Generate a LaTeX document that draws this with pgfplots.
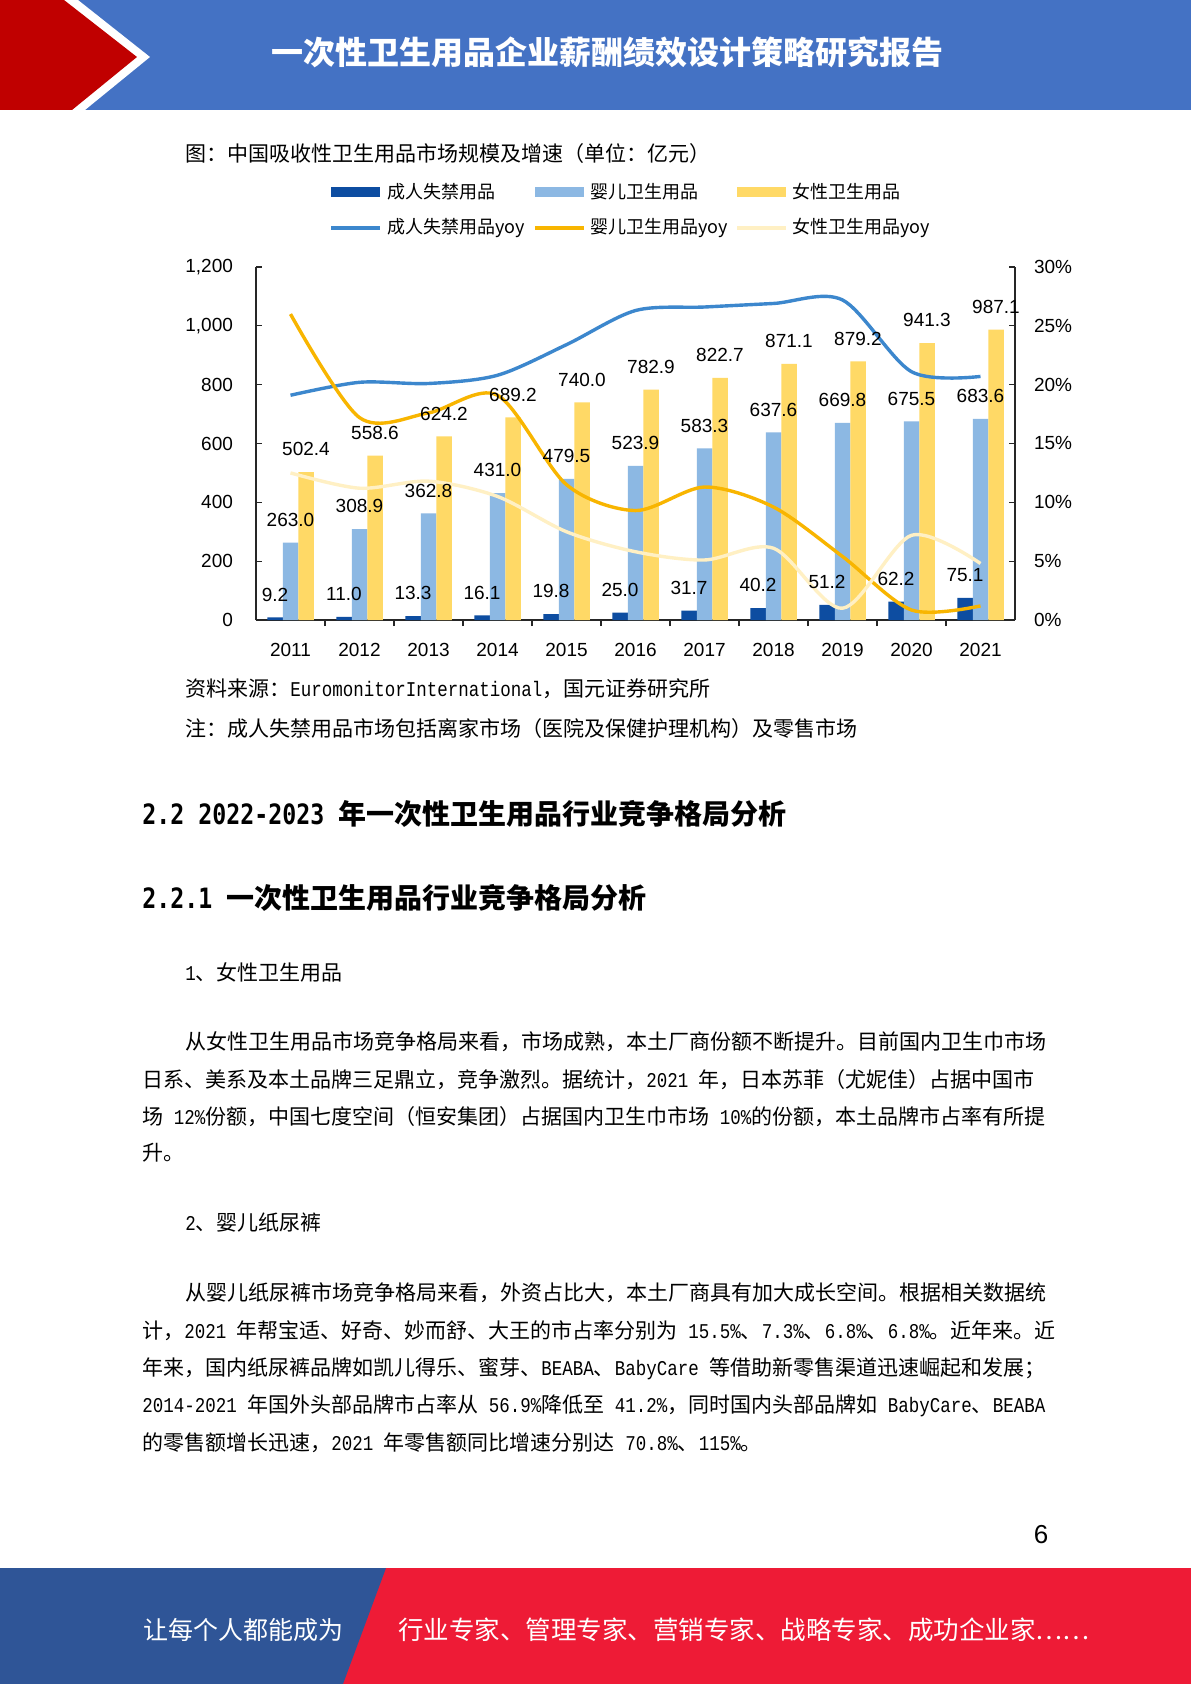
\documentclass[border=0pt]{standalone}
\usepackage{fontspec}
\setmainfont{Noto Sans CJK SC}
\newfontfamily\arial{Liberation Sans}
\newfontfamily\monofont[FakeStretch=0.833]{Liberation Mono}
\newfontfamily\hmonofont[FakeStretch=0.83]{DejaVu Sans Mono}
\usepackage{pgfplots}
\pgfplotsset{compat=1.18}

\definecolor{cAdult}{HTML}{0D4DA1}
\definecolor{cBaby}{HTML}{8CB8E3}
\definecolor{cFem}{HTML}{FFD966}
\definecolor{lAdult}{HTML}{3C87CD}
\definecolor{lBaby}{HTML}{F8B500}
\definecolor{lFem}{HTML}{FFF0C4}
\definecolor{hdrBlue}{HTML}{4472C4}
\definecolor{hdrRed}{HTML}{C00000}
\definecolor{ftBlue}{HTML}{2F5597}
\definecolor{ftRed}{HTML}{EE1B36}

% half-width latin, as in the source document
\newcommand\lm[1]{{\monofont\fontsize{10.5pt}{13pt}\selectfont #1}}
\newcommand\hm[1]{{\hmonofont\bfseries\fontsize{14pt}{16pt}\selectfont #1}}
\newcommand\body{\fontsize{10.5pt}{13pt}\selectfont}

\pgfplotsset{
  /pgf/number format/assume math mode=true,
  pagechart/.style={
    at={(chartorigin)}, anchor=south west,
    width=379.5pt, height=176.5pt, scale only axis,
    xmin=-0.5, xmax=10.5,
    tick align=inside,
    axis line style={black!85, line width=0.7pt},
    tick style={black!85, line width=0.6pt},
    major tick length=3pt,
    ticklabel style={font=\arial\fontsize{9.5pt}{11pt}\selectfont},
  },
  barchart/.style={pagechart,
    ymin=0, ymax=1200,
    ybar=0pt, bar width=7.75pt,
  },
}

% market size, 100 million yuan
\pgfplotstableread{
x  adult baby  fem
0  9.2   263.0 502.4
1  11.0  308.9 558.6
2  13.3  362.8 624.2
3  16.1  431.0 689.2
4  19.8  479.5 740.0
5  25.0  523.9 782.9
6  31.7  583.3 822.7
7  40.2  637.6 871.1
8  51.2  669.8 879.2
9  62.2  675.5 941.3
10 75.1  683.6 987.1
}\sizes

% growth, percent
\pgfplotstableread{
x  adult baby fem
0  19.1  26.0 12.5
1  20.2  17.2 11.2
2  20.1  17.6 11.8
3  20.8  19.1 10.5
4  23.4  11.5 7.5
5  26.3  9.3  5.8
6  26.6  11.3 5.1
7  26.9  9.6  6.1
8  27.2  5.4  1.0
9  21.1  0.85 7.2
10 20.7  1.2  4.8
}\growth

\begin{document}
\begin{tikzpicture}[x=0.5pt,y=-0.5pt]
\path[use as bounding box] (0,0) rectangle (1191,1684);
\fill[white] (0,0) rectangle (1191,1684);
\coordinate (chartorigin) at (256,620);

% header band
\fill[hdrBlue] (0,0) rectangle (1191,110);
\fill[white] (0,0) -- (78,0) -- (150,57) -- (85,110) -- (0,110) -- cycle;
\fill[hdrRed] (0,0) -- (64,0) -- (137,57) -- (72,110) -- (0,110) -- cycle;
\node[text=white, font=\bfseries\fontsize{16pt}{18pt}\selectfont, inner sep=0] at (607,52)
  {一次性卫生用品企业薪酬绩效设计策略研究报告};

% chart title
\node[anchor=west, inner sep=0, font=\fontsize{10.5pt}{12pt}\selectfont] at (185,154)
  {图：中国吸收性卫生用品市场规模及增速（单位：亿元）};

% legend
\begin{scope}[font=\fontsize{9pt}{11pt}\selectfont]
\fill[cAdult] (331,187) rectangle (380,197);
\fill[cBaby]  (535,187) rectangle (584,197);
\fill[cFem]   (737,187) rectangle (786,197);
\node[anchor=west, inner sep=0] at (387,192) {成人失禁用品};
\node[anchor=west, inner sep=0] at (590,192) {婴儿卫生用品};
\node[anchor=west, inner sep=0] at (792,192) {女性卫生用品};
\draw[lAdult, line width=2pt] (331,228) -- (380,228);
\draw[lBaby,  line width=2pt] (535,228) -- (584,228);
\draw[lFem,   line width=2pt] (737,228) -- (786,228);
\node[anchor=west, inner sep=0] at (387,228) {成人失禁用品yoy};
\node[anchor=west, inner sep=0] at (590,228) {婴儿卫生用品yoy};
\node[anchor=west, inner sep=0] at (792,228) {女性卫生用品yoy};
\end{scope}

% bars, left axis
\begin{axis}[barchart,
    axis x line*=bottom, axis y line*=left,
    xtick={0,1,2,3,4,5,6,7,8,9,10},
    xticklabels={2011,2012,2013,2014,2015,2016,2017,2018,2019,2020,2021},
    major x tick style={draw=none},
    minor xtick={0.5,1.5,2.5,3.5,4.5,5.5,6.5,7.5,8.5,9.5},
    minor tick length=3pt,
    minor x tick style={black!85, line width=0.6pt},
    ytick={0,200,400,600,800,1000,1200},
    yticklabel style={xshift=-8pt},
    xticklabel style={yshift=-5pt},
  ]
  \addplot[draw=none, fill=cAdult] table[x=x, y=adult] {\sizes};
  \addplot[draw=none, fill=cBaby]  table[x=x, y=baby]  {\sizes};
  \addplot[draw=none, fill=cFem]   table[x=x, y=fem]   {\sizes};
\end{axis}

% growth lines, right axis
\begin{axis}[pagechart,
    ymin=0, ymax=30,
    axis y line*=right, axis x line=none,
    ytick={0,5,10,15,20,25,30},
    yticklabel={\pgfmathprintnumber{\tick}\%},
    yticklabel style={xshift=6pt},
  ]
  \addplot[lAdult, line width=1.7pt, smooth] table[x=x, y=adult] {\growth};
  \addplot[lBaby,  line width=1.7pt, smooth] table[x=x, y=baby]  {\growth};
  \addplot[lFem,   line width=1.7pt, smooth] table[x=x, y=fem]   {\growth};
\end{axis}

% value labels on top of everything
\begin{axis}[barchart, hide axis,
    nodes near coords={\pgfmathprintnumber[fixed,fixed zerofill,precision=1]{\pgfplotspointmeta}},
    every node near coord/.append style={font=\arial\fontsize{9.5pt}{11pt}\selectfont, yshift=4.5pt, text=black},
  ]
  \addplot[draw=none, fill=none] table[x=x, y=adult] {\sizes};
  \addplot[draw=none, fill=none] table[x=x, y=baby]  {\sizes};
  \addplot[draw=none, fill=none] table[x=x, y=fem]   {\sizes};
\end{axis}

% notes under chart
\node[anchor=west, inner sep=0, font=\body] at (185,689)
  {资料来源：\lm{EuromonitorInternational}，国元证券研究所};
\node[anchor=west, inner sep=0, font=\body] at (185,729)
  {注：成人失禁用品市场包括离家市场（医院及保健护理机构）及零售市场};

% headings
\node[anchor=west, inner sep=0, font=\bfseries\fontsize{14pt}{16pt}\selectfont] at (142,814)
  {\hm{2.2 2022-2023 }年一次性卫生用品行业竞争格局分析};
\node[anchor=west, inner sep=0, font=\bfseries\fontsize{14pt}{16pt}\selectfont] at (142,898)
  {\hm{2.2.1 }一次性卫生用品行业竞争格局分析};

% body text
\begin{scope}[every node/.style={anchor=west, inner sep=0, font=\body}]
\node at (185,972) {\lm{1}、女性卫生用品};
\node at (185,1042) {从女性卫生用品市场竞争格局来看，市场成熟，本土厂商份额不断提升。目前国内卫生巾市场};
\node at (142,1080) {日系、美系及本土品牌三足鼎立，竞争激烈。据统计，\lm{2021 }年，日本苏菲（尤妮佳）占据中国市};
\node at (142,1117) {场\lm{ 12\%}份额，中国七度空间（恒安集团）占据国内卫生巾市场\lm{ 10\%}的份额，本土品牌市占率有所提};
\node at (142,1153) {升。};
\node at (185,1223) {\lm{2}、婴儿纸尿裤};
\node at (185,1293) {从婴儿纸尿裤市场竞争格局来看，外资占比大，本土厂商具有加大成长空间。根据相关数据统};
\node at (142,1331) {计，\lm{2021 }年帮宝适、好奇、妙而舒、大王的市占率分别为\lm{ 15.5\%}、\lm{7.3\%}、\lm{6.8\%}、\lm{6.8\%}。近年来。近};
\node at (142,1369) {年来，国内纸尿裤品牌如凯儿得乐、蜜芽、\lm{BEABA}、\lm{BabyCare }等借助新零售渠道迅速崛起和发展；};
\node at (142,1406) {\lm{2014-2021 }年国外头部品牌市占率从\lm{ 56.9\%}降低至\lm{ 41.2\%}，同时国内头部品牌如\lm{ BabyCare}、\lm{BEABA}};
\node at (142,1443) {的零售额增长迅速，\lm{2021 }年零售额同比增速分别达\lm{ 70.8\%}、\lm{115\%}。};
\end{scope}

% page number
\node[inner sep=0, font=\arial\fontsize{13pt}{15pt}\selectfont] at (1041,1535) {6};

% footer band
\fill[ftRed] (0,1568) rectangle (1191,1684);
\fill[ftBlue] (0,1568) -- (386,1568) -- (343,1684) -- (0,1684) -- cycle;
\node[anchor=west, inner sep=0, text=white, font=\fontsize{12.5pt}{14pt}\selectfont] at (143,1630)
  {让每个人都能成为};
\node[anchor=west, inner sep=0, text=white, font=\fontsize{12.75pt}{14pt}\selectfont] at (398,1630)
  {行业专家、管理专家、营销专家、战略专家、成功企业家……};
\end{tikzpicture}
\end{document}
